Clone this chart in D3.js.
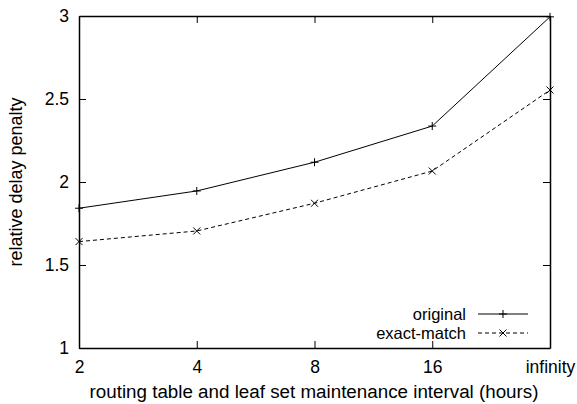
<!DOCTYPE html>
<html>
<head>
<meta charset="utf-8">
<script src="https://cdn.jsdelivr.net/npm/d3@7"></script>
<style>
  body { margin: 0; background: #fff; }
  text { font-family: "Liberation Sans", Arial, sans-serif; fill: #000; }
</style>
</head>
<body>
<div id="chart"></div>
<script>
const categories = ["2", "4", "8", "16", "infinity"];
const original = [1.842, 1.946, 2.119, 2.337, 2.995];
const exactMatch = [1.641, 1.705, 1.872, 2.066, 2.554];
const yTicks = [1, 1.5, 2, 2.5, 3];

const width = 577, height = 404;
const margin = {left: 79, right: 27, top: 16, bottom: 56};

const svg = d3.select("#chart").append("svg")
  .attr("width", width).attr("height", height);

const x = d3.scalePoint().domain(categories).range([margin.left, width - margin.right]);
const y = d3.scaleLinear().domain([1, 3]).range([height - margin.bottom, margin.top]);

const tick = 7;
// axes with inward ticks, mirrored on top/right
svg.append("g")
  .attr("transform", `translate(${margin.left},0)`)
  .call(d3.axisLeft(y).tickValues(yTicks).tickSizeInner(-tick).tickSizeOuter(0).tickPadding(10)
    .tickFormat(d3.format("")));
svg.append("g")
  .attr("transform", `translate(${width - margin.right},0)`)
  .call(d3.axisRight(y).tickValues(yTicks).tickSizeInner(-tick).tickSizeOuter(0).tickFormat(""));
svg.append("g")
  .attr("transform", `translate(0,${height - margin.bottom})`)
  .call(d3.axisBottom(x).tickSizeInner(-tick).tickSizeOuter(0).tickPadding(13));
svg.append("g")
  .attr("transform", `translate(0,${margin.top})`)
  .call(d3.axisTop(x).tickSizeInner(-tick).tickSizeOuter(0).tickFormat(""));

svg.selectAll(".domain").attr("stroke", "#000").attr("stroke-width", 1.5);
svg.selectAll(".tick line").attr("stroke", "#000");
svg.selectAll(".tick text").style("font-size", "17.5px").style("font-family", "Liberation Sans, Arial, sans-serif").attr("fill", "#000");

const line = d3.line().x((d, i) => x(categories[i])).y(d => y(d));

svg.append("path").datum(original)
  .attr("d", line).attr("fill", "none").attr("stroke", "#000").attr("stroke-width", 1);
svg.append("path").datum(exactMatch)
  .attr("d", line).attr("fill", "none").attr("stroke", "#000").attr("stroke-width", 1)
  .attr("stroke-dasharray", "4,3");

function plus(g, cx, cy) {
  g.append("path").attr("d", `M${cx - 4},${cy}H${cx + 4}M${cx},${cy - 4}V${cy + 4}`)
    .attr("stroke", "#000").attr("stroke-width", 1);
}
function cross(g, cx, cy) {
  g.append("path").attr("d", `M${cx - 3.5},${cy - 3.5}L${cx + 3.5},${cy + 3.5}M${cx - 3.5},${cy + 3.5}L${cx + 3.5},${cy - 3.5}`)
    .attr("stroke", "#000").attr("stroke-width", 1);
}
const marks = svg.append("g");
original.forEach((d, i) => plus(marks, x(categories[i]), y(d)));
exactMatch.forEach((d, i) => cross(marks, x(categories[i]), y(d)));

// legend
const legend = svg.append("g");
const lx0 = 478, lx1 = 528;
[["original", 314, plus, null], ["exact-match", 333, cross, "4,3"]].forEach(([name, ly, mk, dash]) => {
  legend.append("text").attr("x", 466).attr("y", ly + 6)
    .attr("text-anchor", "end").style("font-size", "16.5px").text(name);
  legend.append("line").attr("x1", lx0).attr("x2", lx1).attr("y1", ly).attr("y2", ly)
    .attr("stroke", "#000").attr("stroke-dasharray", dash);
  mk(legend, (lx0 + lx1) / 2, ly);
});

// axis titles
svg.append("text").attr("x", (98 + 530) / 2).attr("y", 398)
  .attr("text-anchor", "middle").style("font-size", "18.8px")
  .text("routing table and leaf set maintenance interval (hours)");
svg.append("text").attr("transform", "translate(22,182) rotate(-90)")
  .attr("text-anchor", "middle").style("font-size", "18px").text("relative delay penalty");
</script>
</body>
</html>
